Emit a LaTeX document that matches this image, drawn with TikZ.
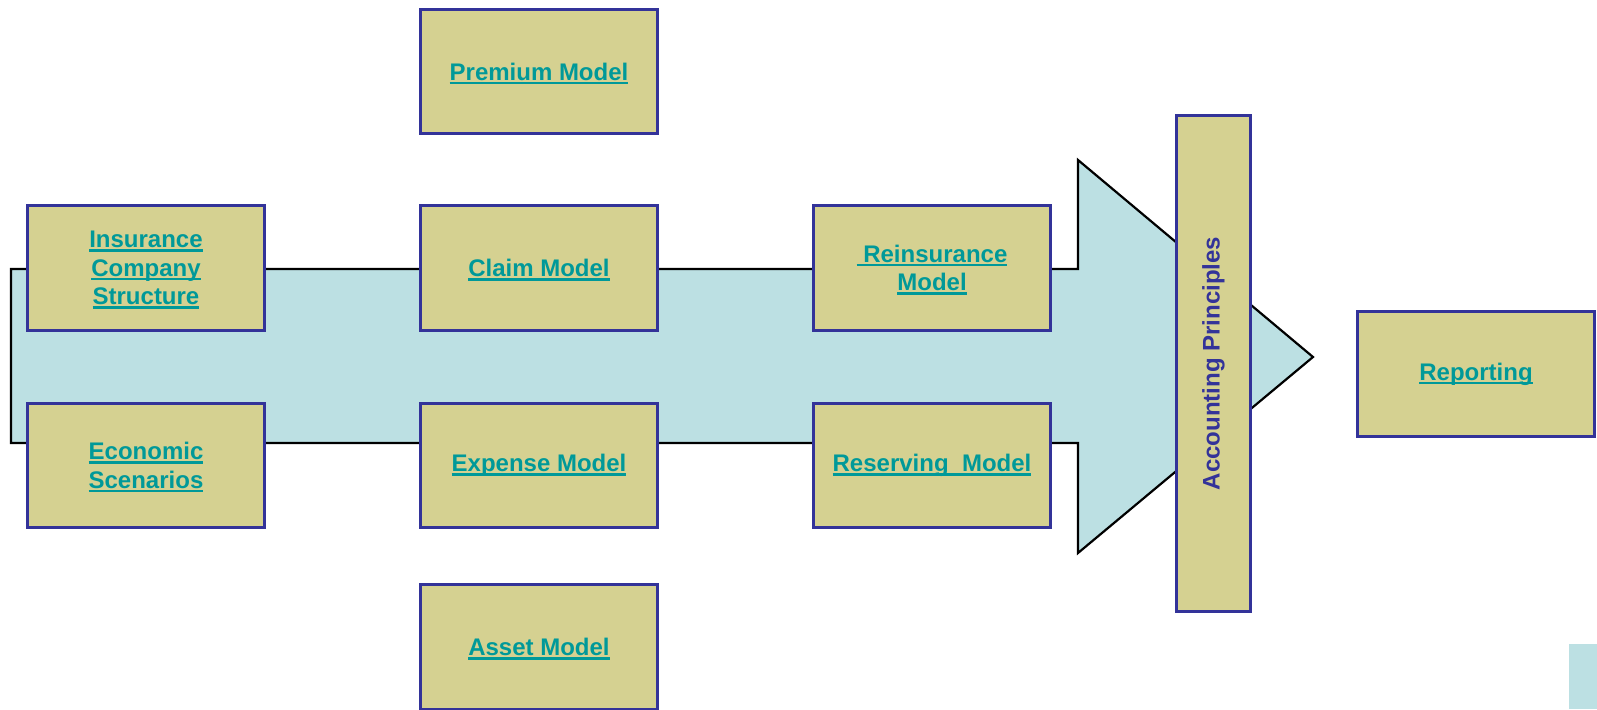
\documentclass[tikz,border=0pt]{standalone}
\usepackage{fontspec}
\setmainfont{Liberation Sans}
\usepackage{graphicx}
\usetikzlibrary{positioning}

\definecolor{boxfill}{RGB}{213,209,145}
\definecolor{boxline}{RGB}{51,51,153}
\definecolor{linktext}{RGB}{0,153,153}
\definecolor{arrowfill}{RGB}{188,224,227}

% underlined link text, rule at a fixed depth
\newcommand\lnk[1]{\setbox0\hbox{#1}\rlap{\smash{\rule[-4pt]{\wd0}{2.4pt}}}\box0}

\begin{document}
\begin{tikzpicture}[
    font=\fontsize{24}{28.5}\selectfont\bfseries,
    box/.style={draw=boxline, line width=3pt, fill=boxfill, text=linktext, align=center, minimum width=237pt, minimum height=124.5pt, inner sep=2pt},
    flow/.style={draw=black, line width=2.2pt, fill=arrowfill, line join=miter}
]
\useasboundingbox (0,0) rectangle (1597pt,-709pt);
% big arrow behind the boxes
\draw[flow] (11pt,-269pt) -- (1078pt,-269pt) -- (1078pt,-160pt) -- (1313pt,-357pt) -- (1078pt,-553pt) -- (1078pt,-443pt) -- (11pt,-443pt) -- cycle;
\fill[arrowfill] (1569pt,-644pt) rectangle (1597pt,-709pt);

\node[box] (ins) at (146pt,-268pt) {\lnk{Insurance}\\\lnk{Company}\\\lnk{Structure}};
\node[box, below=70pt of ins] (eco) {\lnk{Economic}\\\lnk{Scenarios}};
\node[box, right=153pt of ins] (clm) {\lnk{Claim Model}};
\node[box, above=69pt of clm] (prm) {\lnk{Premium Model}};
\node[box, right=153pt of eco] (exp) {\lnk{Expense Model}};
\node[box, below=54pt of exp] (ast) {\lnk{Asset Model}};
\node[box, right=153pt of clm] (rei) {\lnk{\ Reinsurance}\\\lnk{Model}};
\node[box, right=153pt of exp] (res) {\lnk{Reserving\ \ Model}};
\node[box, text=boxline, minimum width=74pt, minimum height=496pt] (acc) at (1213.5pt,-363.5pt) {\rotatebox{90}{Accounting Principles}};
\node[box] (rep) at (1476pt,-374pt) {\lnk{Reporting}};
\end{tikzpicture}
\end{document}
